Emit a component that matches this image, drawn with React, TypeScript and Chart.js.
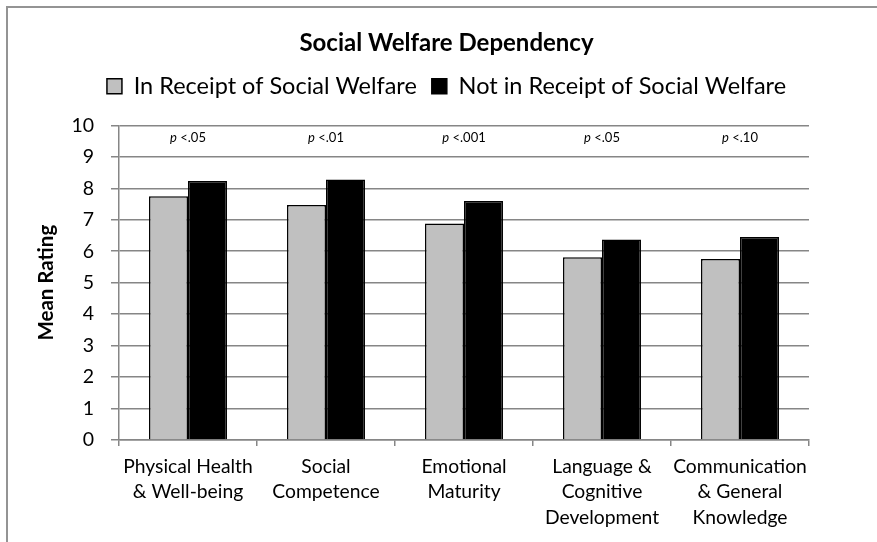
import React, { useEffect, useRef } from "react";
import { Chart, registerables } from "chart.js";

Chart.register(...registerables);

const categories: string[][] = [
  ["Physical Health", "& Well-being"],
  ["Social", "Competence"],
  ["Emotional", "Maturity"],
  ["Language &", "Cognitive", "Development"],
  ["Communication", "& General", "Knowledge"],
];
const inReceipt = [7.75, 7.47, 6.88, 5.81, 5.75];
const notInReceipt = [8.23, 8.28, 7.6, 6.37, 6.45];
const pValues = ["<.05", "<.01", "<.001", "<.05", "<.10"];
const seriesNames = ["In Receipt of Social Welfare", "Not in Receipt of Social Welfare"];
const titleText = "Social Welfare Dependency";
const yTitle = "Mean Rating";

const FONT = "Lato, 'DejaVu Sans', sans-serif";
const GRID = "#868686";

const pPlugin = {
  id: "pLabels",
  afterDatasetsDraw(chart: any) {
    const { ctx, scales } = chart;
    const x = scales.x;
    const y = scales.y;
    ctx.save();
    ctx.fillStyle = "#000";
    ctx.textBaseline = "middle";
    pValues.forEach((txt, i) => {
      const cx = x.getPixelForValue(i);
      const cy = y.getPixelForValue(9.62);
      ctx.font = `italic 13px ${FONT}`;
      const wp = ctx.measureText("p").width;
      ctx.font = `13px ${FONT}`;
      const rest = " " + txt;
      const wr = ctx.measureText(rest).width;
      const start = cx - (wp + wr) / 2;
      ctx.textAlign = "left";
      ctx.font = `italic 13px ${FONT}`;
      ctx.fillText("p", start, cy);
      ctx.font = `13px ${FONT}`;
      ctx.fillText(rest, start + wp, cy);
    });
    ctx.restore();
  },
};

export default function App() {
  const ref = useRef<HTMLCanvasElement | null>(null);
  useEffect(() => {
    document.body.style.margin = "0";
    const canvas = ref.current;
    if (!canvas) return;
    const chart = new Chart(canvas, {
      type: "bar",
      data: {
        labels: categories,
        datasets: [
          {
            label: seriesNames[0],
            data: inReceipt,
            yAxisID: "y",
            backgroundColor: "#c0c0c0",
            borderColor: "#000",
            borderWidth: 1.5,
            borderSkipped: "bottom",
          },
          {
            label: seriesNames[1],
            data: notInReceipt,
            yAxisID: "y",
            backgroundColor: "#000",
            borderColor: "#000",
            borderWidth: 1.5,
            borderSkipped: "bottom",
          },
        ],
      },
      options: {
        responsive: false,
        animation: false,
        events: [],
        layout: { padding: { left: 16, right: 0, top: 0, bottom: 0 } },
        datasets: { bar: { categoryPercentage: 0.565, barPercentage: 1.0 } },
        plugins: {
          tooltip: { enabled: false },
          title: {
            display: true,
            text: titleText,
            color: "#000",
            font: { family: FONT, size: 24, weight: "bold" },
            padding: { top: 28.6, bottom: 2 },
          },
          legend: {
            display: true,
            position: "top",
            labels: {
              color: "#000",
              boxWidth: 15,
              boxHeight: 15,
              padding: 15,
              font: { family: FONT, size: 23.5 },
            },
          },
          subtitle: {
            display: true,
            text: "",
            position: "top",
            weight: 100,
            font: { size: 1, lineHeight: 1 },
            padding: { top: 0, bottom: 16.5 },
          },
        },
        scales: {
          x: {
            offset: true,
            grid: {
              offset: true,
              drawOnChartArea: false,
              drawTicks: true,
              tickLength: 6,
              color: GRID,
              lineWidth: 1.5,
            },
            border: { display: true, color: GRID, width: 1.5 },
            ticks: {
              color: "#000",
              font: { family: FONT, size: 19.3, lineHeight: 1.32 },
              padding: 8,
              maxRotation: 0,
              minRotation: 0,
              autoSkip: false,
            },
            afterFit(scale: any) {
              scale.height = 102;
            },
          },
          y: {
            min: 0,
            max: 10,
            position: "left",
            grid: {
              color: GRID,
              lineWidth: 1.5,
              drawTicks: true,
              tickLength: 8,
            },
            border: { display: true, color: GRID, width: 1.5 },
            ticks: {
              stepSize: 1,
              color: "#000",
              font: { family: FONT, size: 19.5 },
              padding: 17,
            },
            title: {
              display: true,
              text: yTitle,
              color: "#000",
              font: { family: FONT, size: 20.5, weight: "bold" },
              padding: { top: 18, bottom: 0 },
            },
            afterFit(scale: any) {
              scale.width = 103;
            },
          },
          yR: {
            type: "linear",
            position: "right",
            display: true,
            min: 0,
            max: 10,
            grid: { display: false, drawOnChartArea: false },
            border: { display: false },
            ticks: { display: false },
            afterFit(scale: any) {
              scale.width = 68;
            },
          },
        },
      },
      plugins: [pPlugin],
    });
    return () => chart.destroy();
  }, []);
  return (
    <div style={{ position: "relative", width: 877, height: 542, overflow: "hidden", background: "#fff" }}>
      <div
        style={{
          position: "absolute",
          left: 6,
          top: 6,
          width: 1000,
          height: 1000,
          borderTop: "2px solid #949494",
          borderLeft: "2px solid #949494",
          boxSizing: "border-box",
        }}
      />
      <canvas ref={ref} width={877} height={542} style={{ position: "absolute", left: 0, top: 0, display: "block" }} />
    </div>
  );
}
